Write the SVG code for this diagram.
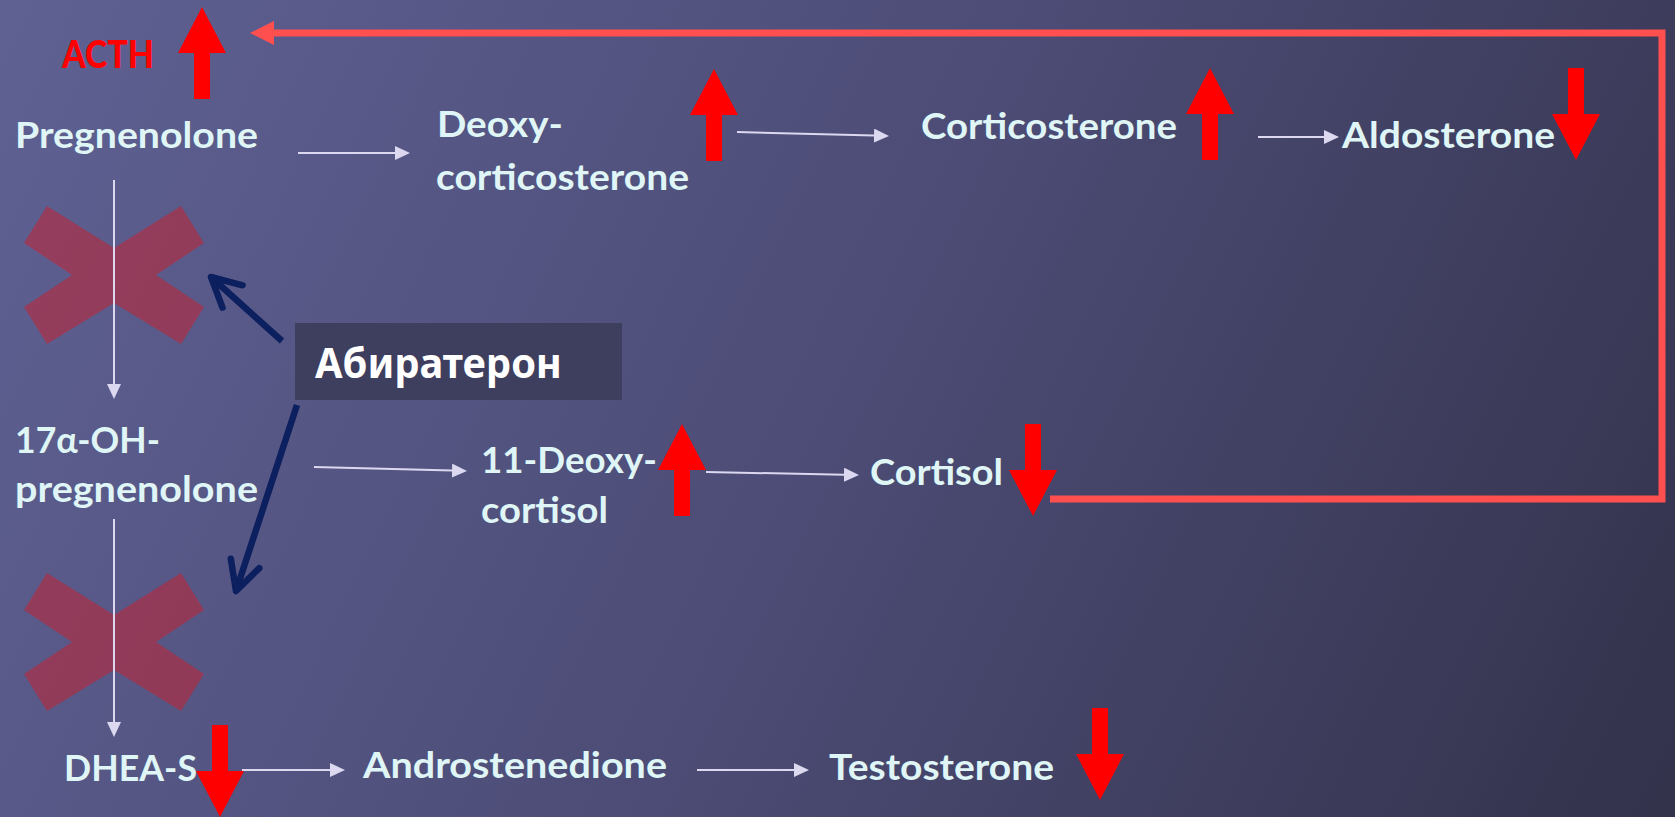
<svg xmlns="http://www.w3.org/2000/svg" xmlns:xlink="http://www.w3.org/1999/xlink" width="1675" height="817" viewBox="0 0 1675 817">
<style>
.lbl{font-family:Lato,"Liberation Sans","Noto Sans",sans-serif;font-weight:700;font-size:36px;fill:#DFF5F6}
.acth{font-family:Lato,"Liberation Sans",sans-serif;font-weight:900;font-size:37px;fill:#FF0000}
.drug{font-family:"Noto Sans","Open Sans","Liberation Sans",sans-serif;font-weight:700;font-size:41px;fill:#FFFFFF}
.conn{fill:none;stroke:#DCD8F0;stroke-width:2}
.navy{fill:none;stroke:#0C1F5E;stroke-width:6.5}
.fb{fill:none;stroke:#FF4F4F;stroke-width:7}
.ind{fill:#FF0000}
.xm{fill:#C32333;fill-opacity:0.55}
</style>
<defs>
<linearGradient id="bg" x1="0" y1="0" x2="1675" y2="817" gradientUnits="userSpaceOnUse">
<stop offset="0" stop-color="#5F6193"/>
<stop offset="0.5" stop-color="#4C4C76"/>
<stop offset="1" stop-color="#33324B"/>
</linearGradient>
<marker id="lh" markerUnits="userSpaceOnUse" markerWidth="15" markerHeight="14" refX="0" refY="7" orient="auto">
<path d="M0,0 L15,7 L0,14 Z" fill="#DCD8F0"/>
</marker>
<marker id="rh" markerUnits="userSpaceOnUse" markerWidth="24" markerHeight="24" refX="0" refY="12" orient="auto">
<path d="M0,0 L24,12 L0,24 Z" fill="#FF4F4F"/>
</marker>
<marker id="nh" markerUnits="userSpaceOnUse" markerWidth="42" markerHeight="40" refX="34" refY="20" orient="auto">
<path d="M5,5 L34,20 L5,35" fill="none" stroke="#0C1F5E" stroke-width="6.5" stroke-linejoin="round" stroke-linecap="round"/>
</marker>
<path id="up" d="M0,0 L24,46 L8,46 L8,92 L-8,92 L-8,46 L-24,46 Z"/>
<path id="down" d="M0,0 L24,-46 L8,-46 L8,-92 L-8,-92 L-8,-46 L-24,-46 Z"/>
<path id="xshape" d="M-90,-32 L-67,-69 L0,-27 L67,-69 L90,-32 L42,0 L90,32 L67,69 L0,28 L-67,69 L-90,32 L-42,0 Z"/>
</defs>

<rect width="1675" height="817" fill="url(#bg)"/>

<g id="blocks">
<use xlink:href="#xshape" href="#xshape" class="xm" transform="translate(114,275)"/>
<use xlink:href="#xshape" href="#xshape" class="xm" transform="translate(114,642)"/>
</g>

<g id="connectors">
<path class="conn" d="M298,153 L395,153" marker-end="url(#lh)"/>
<path class="conn" d="M737,132 L874,135.6" marker-end="url(#lh)"/>
<path class="conn" d="M1258,137 L1324,137" marker-end="url(#lh)"/>
<path class="conn" d="M114,180 L114,384" marker-end="url(#lh)"/>
<path class="conn" d="M314,467 L452,470.6" marker-end="url(#lh)"/>
<path class="conn" d="M706,472 L844,474.7" marker-end="url(#lh)"/>
<path class="conn" d="M114,519 L114,722" marker-end="url(#lh)"/>
<path class="conn" d="M242,770 L330,770" marker-end="url(#lh)"/>
<path class="conn" d="M697,770 L794,770" marker-end="url(#lh)"/>
<path class="navy" d="M282,341 L211,277" marker-end="url(#nh)"/>
<path class="navy" d="M297,405 L236,591" marker-end="url(#nh)"/>
<path class="fb" d="M1050,499 L1662,499 L1662,33 L274,33" marker-end="url(#rh)"/>
</g>

<g id="n-acth"><text class="acth" x="62" y="68" textLength="92" lengthAdjust="spacingAndGlyphs">ACTH</text></g>
<g id="n-pregnenolone"><text class="lbl" x="15" y="148" textLength="243" lengthAdjust="spacingAndGlyphs">Pregnenolone</text></g>
<g id="n-deoxycorticosterone">
<text class="lbl" x="437" y="137" textLength="126" lengthAdjust="spacingAndGlyphs">Deoxy-</text>
<text class="lbl" x="436" y="190" textLength="253" lengthAdjust="spacingAndGlyphs">corticosterone</text>
</g>
<g id="n-corticosterone"><text class="lbl" x="921" y="139" textLength="256" lengthAdjust="spacingAndGlyphs">Corticosterone</text></g>
<g id="n-aldosterone"><text class="lbl" x="1342" y="148" textLength="213" lengthAdjust="spacingAndGlyphs">Aldosterone</text></g>
<g id="n-17oh">
<text class="lbl" x="15" y="453" textLength="145" lengthAdjust="spacingAndGlyphs">17α-OH-</text>
<text class="lbl" x="15" y="502" textLength="243" lengthAdjust="spacingAndGlyphs">pregnenolone</text>
</g>
<g id="n-11deoxycortisol">
<text class="lbl" x="481" y="473" textLength="176" lengthAdjust="spacingAndGlyphs">11-Deoxy-</text>
<text class="lbl" x="481" y="523" textLength="127" lengthAdjust="spacingAndGlyphs">cortisol</text>
</g>
<g id="n-cortisol"><text class="lbl" x="870" y="485" textLength="133" lengthAdjust="spacingAndGlyphs">Cortisol</text></g>
<g id="n-dheas"><text class="lbl" x="64" y="781" textLength="133" lengthAdjust="spacingAndGlyphs">DHEA-S</text></g>
<g id="n-androstenedione"><text class="lbl" x="363" y="778" textLength="304" lengthAdjust="spacingAndGlyphs">Androstenedione</text></g>
<g id="n-testosterone"><text class="lbl" x="829" y="780" textLength="225" lengthAdjust="spacingAndGlyphs">Testosterone</text></g>
<g id="n-abiraterone">
<rect x="295" y="323" width="327" height="77" fill="#3E3E5E"/>
<text class="drug" x="315" y="378" textLength="247" lengthAdjust="spacingAndGlyphs">Абиратерон</text>
</g>

<g id="indicators" class="ind">
<use xlink:href="#up" href="#up" x="202" y="7"/>
<use xlink:href="#up" href="#up" x="714" y="69"/>
<use xlink:href="#up" href="#up" x="1210" y="68"/>
<use xlink:href="#up" href="#up" x="682" y="424"/>
<use xlink:href="#down" href="#down" x="1576" y="160"/>
<use xlink:href="#down" href="#down" x="1033" y="516"/>
<use xlink:href="#down" href="#down" x="220" y="817"/>
<use xlink:href="#down" href="#down" x="1100" y="800"/>
</g>
</svg>
